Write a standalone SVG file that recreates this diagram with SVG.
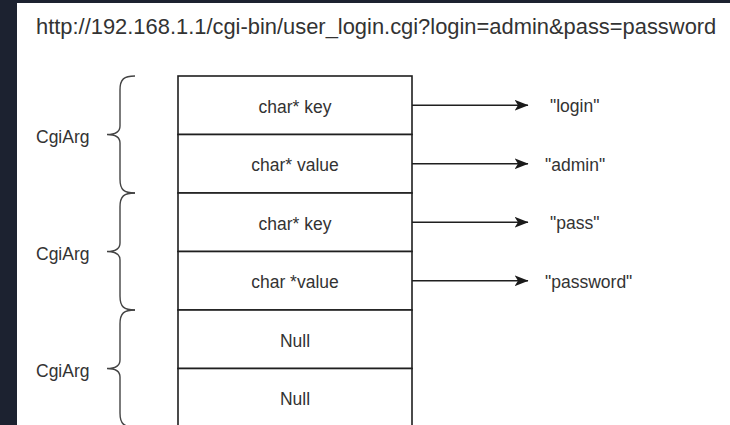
<svg xmlns="http://www.w3.org/2000/svg" width="730" height="425" viewBox="0 0 730 425">
  <style>
    .t { font-family: "Liberation Sans", Arial, sans-serif; fill: #333333; }
    .cell { font-size: 17.5px; text-anchor: middle; }
    .lbl { font-size: 17.5px; }
    .title { font-size: 21.9px; }
    .box { fill: #ffffff; stroke: #1f1f1f; stroke-width: 1.6; }
    .brace { fill: none; stroke: #444444; stroke-width: 1.4; }
    .edge { fill: none; stroke: #1f1f1f; stroke-width: 1.5; }
  </style>
  <defs>
    <marker id="arrow" viewBox="0 0 14 11" refX="13.5" refY="5.5" markerWidth="14" markerHeight="11" markerUnits="userSpaceOnUse" orient="auto">
      <path d="M0,0 L14,5.5 L0,11 L3.5,5.5 Z" fill="#1a1a1a"/>
    </marker>
  </defs>

  <!-- page frame -->
  <rect x="0" y="0" width="730" height="425" fill="#1c2230"/>
  <rect x="17" y="3" width="713" height="422" fill="#ffffff"/>

  <g id="title">
    <text class="t title" x="36" y="34">http://192.168.1.1/cgi-bin/user_login.cgi?login=admin&amp;pass=password</text>
  </g>

  <!-- argument array cells -->
  <g id="cell-1">
    <rect class="box" x="178" y="76" width="234" height="58.5"/>
    <text class="t cell" x="295" y="112.5">char* key</text>
  </g>
  <g id="cell-2">
    <rect class="box" x="178" y="134.5" width="234" height="58.5"/>
    <text class="t cell" x="295" y="171">char* value</text>
  </g>
  <g id="cell-3">
    <rect class="box" x="178" y="193" width="234" height="58.5"/>
    <text class="t cell" x="295" y="229.5">char* key</text>
  </g>
  <g id="cell-4">
    <rect class="box" x="178" y="251.5" width="234" height="58.5"/>
    <text class="t cell" x="295" y="288">char *value</text>
  </g>
  <g id="cell-5">
    <rect class="box" x="178" y="310" width="234" height="58.5"/>
    <text class="t cell" x="295" y="346.5">Null</text>
  </g>
  <g id="cell-6">
    <rect class="box" x="178" y="368.5" width="234" height="58.5"/>
    <text class="t cell" x="295" y="405">Null</text>
  </g>

  <!-- braces grouping each key/value pair -->
  <g id="cgiarg-1">
    <path class="brace" d="M135,76 C124,76 120,79 120,90 L120,126 C120,132 116,134.5 107,134.5 C116,134.5 120,137 120,143 L120,179 C120,190 124,193 135,193"/>
    <text class="t lbl" x="36" y="142.5">CgiArg</text>
  </g>
  <g id="cgiarg-2">
    <path class="brace" d="M135,193 C124,193 120,196 120,207 L120,243 C120,249 116,251.5 107,251.5 C116,251.5 120,254 120,260 L120,296 C120,307 124,310 135,310"/>
    <text class="t lbl" x="36" y="259.5">CgiArg</text>
  </g>
  <g id="cgiarg-3">
    <path class="brace" d="M135,310 C124,310 120,313 120,324 L120,360 C120,366 116,368.5 107,368.5 C116,368.5 120,371 120,377 L120,413 C120,424 124,427 135,427"/>
    <text class="t lbl" x="36" y="376.5">CgiArg</text>
  </g>

  <!-- pointed-to strings -->
  <g id="str-login">
    <text class="t lbl" x="550" y="112">"login"</text>
  </g>
  <g id="str-admin">
    <text class="t lbl" x="545" y="170.5">"admin"</text>
  </g>
  <g id="str-pass">
    <text class="t lbl" x="550" y="229">"pass"</text>
  </g>
  <g id="str-password">
    <text class="t lbl" x="545" y="287.5">"password"</text>
  </g>

  <g id="connectors">
    <line class="edge" x1="412" y1="105.25" x2="528" y2="105.25" marker-end="url(#arrow)"/>
    <line class="edge" x1="412" y1="163.75" x2="528" y2="163.75" marker-end="url(#arrow)"/>
    <line class="edge" x1="412" y1="222.25" x2="528" y2="222.25" marker-end="url(#arrow)"/>
    <line class="edge" x1="412" y1="280.75" x2="528" y2="280.75" marker-end="url(#arrow)"/>
  </g>
</svg>
